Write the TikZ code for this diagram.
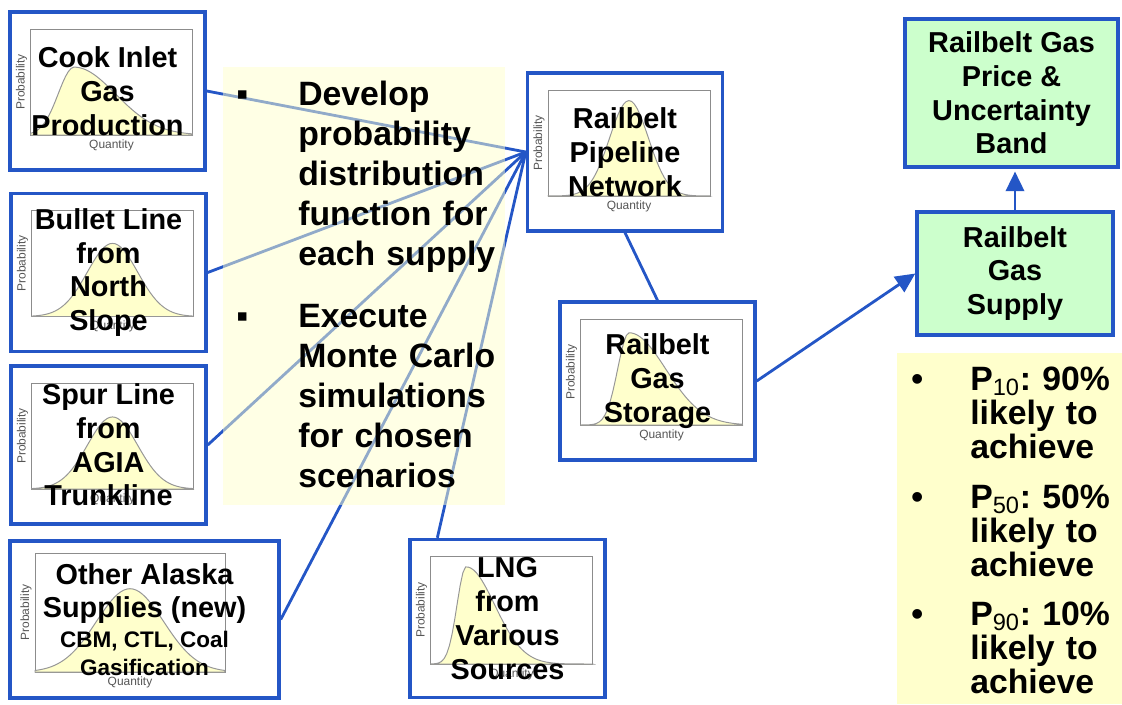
\documentclass[tikz,border=0pt]{standalone}
\usepackage{fontspec}
\setmainfont{Liberation Sans}
\usetikzlibrary{arrows.meta,calc}
\definecolor{cBlue}{HTML}{2456C6}
\definecolor{cPaper}{HTML}{FFFFCC}
\definecolor{cMint}{HTML}{CCFFCC}
\definecolor{cFrame}{HTML}{8C8C8C}
\definecolor{cLabel}{HTML}{555555}

% frame, skewed bell curve and axis labels of one small distribution plot
\newcommand{\distplot}[9]{%
  \draw[pframe] (#2,#3) rectangle ++(#4,#5);
  \filldraw[pcurve] (#2,#3+#5) -- plot[domain=0:1,samples=61]
    ({#2+\x*#4},{#3+#5-#5*#9*exp(-min(9,((\x-#6)/(((\x<#6)?#7:#8)))^2))})
    -- (#2+#4,#3+#5) -- cycle;
  \node[axlbl,rotate=90] (#1P) at (#2-9,#3+#5/2) {Probability};
  \node[axlbl] (#1Q) at (#2+#4/2,#3+#5+10) {Quantity};
}

\begin{document}
\begin{tikzpicture}[x=0.025cm,y=-0.025cm,
    srcbox/.style={draw=cBlue,line width=2.4pt,minimum width=4.875cm,minimum height=3.95cm,
      align=center,inner sep=0pt,font=\bfseries\fontsize{20.5}{24}\selectfont},
    sumbox/.style={srcbox,fill=cMint},
    notebox/.style={fill=cPaper,inner sep=0pt},
    pframe/.style={draw=cFrame,line width=0.7pt},
    pcurve/.style={draw=cFrame!90,fill=cPaper,line width=0.7pt},
    axlbl/.style={text=cLabel,font=\fontsize{8.5}{9}\selectfont,inner sep=0pt},
    link/.style={draw=cBlue,line width=2pt},
    flow/.style={link,-{Triangle[length=14pt,width=13pt]}},
    bul/.style={anchor=base west,inner sep=0pt,font=\bfseries\fontsize{24}{28}\selectfont},
    steptxt/.style={bul,text width=5.5cm,align=left,font=\bfseries\fontsize{24}{28.5}\selectfont},
    ptxt/.style={bul,text width=3.7cm,align=left,font=\bfseries\fontsize{24}{24.5}\selectfont}]
  \useasboundingbox (0,0) rectangle (1122,704);

  \distplot{cook}{30.5}{29}{162}{106}{0.27}{0.14}{0.36}{0.64}
  \distplot{bullet}{31.5}{210.5}{162}{106}{0.5}{0.22}{0.22}{0.69}
  \distplot{spur}{31.5}{383}{162}{106}{0.5}{0.22}{0.22}{0.68}
  \distplot{other}{35}{553}{190}{119}{0.5}{0.25}{0.25}{0.70}
  \distplot{lng}{430.5}{556}{162}{108}{0.22}{0.08}{0.25}{0.90}
  \distplot{pipe}{548}{90}{162}{106}{0.5}{0.17}{0.17}{0.90}
  \distplot{storage}{580.5}{319}{162}{106}{0.3}{0.10}{0.32}{0.87}

  \node[srcbox] (cook) at (107.5,91) {Cook Inlet\\Gas\\Production};
  \node[srcbox] (bullet) at (108.5,272.5) {Bullet Line\\from\\North\\Slope};
  \node[srcbox] (spur) at (108.5,445) {Spur Line\\from\\AGIA\\Trunkline};
  \node[srcbox,minimum width=6.725cm,minimum height=3.925cm] (other) at (144.5,619.5)
    {Other Alaska\\Supplies (new)\\[-3pt]{\fontsize{16}{18}\selectfont CBM, CTL, Coal}\\[-4pt]
     {\fontsize{16}{18}\selectfont Gasification}};
  \node[srcbox] (lng) at (507.5,618.5) {LNG\\from\\Various\\Sources};
  \node[srcbox] (pipe) at (625,152) {Railbelt\\Pipeline\\Network};
  \node[srcbox] (storage) at (657.5,381) {Railbelt\\Gas\\Storage};
  \node[sumbox,minimum width=5.325cm,minimum height=3.7cm] (price) at (1011.5,93)
    {Railbelt Gas\\Price \&\\Uncertainty\\Band};
  \node[sumbox,minimum width=4.9cm,minimum height=3.075cm] (supply) at (1015,273.5)
    {Railbelt\\Gas\\Supply};

  \foreach \src in {cook,bullet,spur,other}
    \draw[link] (\src.east) -- (pipe.west);
  \draw[link] (lng.131) -- (pipe.west);
  \draw[link] (pipe.south) -- (storage.north);
  \draw[flow] (storage.east) -- (supply.west);
  \draw[flow,shorten >=2pt] (supply.north) -- (supply.north |- price.south);

  \node[notebox,minimum width=7.05cm,minimum height=10.95cm,fill opacity=0.5,text opacity=1]
    (steps) at (364,286) {};
  \node[bul] (b1) at (236,105) {▪};
  \node[steptxt] (s1) at (298,105) {Develop\\probability\\distribution\\function for\\each supply};
  \node[bul] (b2) at (236,327) {▪};
  \node[steptxt] (s2) at (298,327) {Execute\\Monte Carlo\\simulations\\for chosen\\scenarios};

  \node[notebox,minimum width=5.625cm,minimum height=8.775cm] (pnote) at (1009.5,528.5) {};
  \foreach \p/\q/\yy [count=\k] in {10/90/390,50/50/508,90/10/625} {
    \node[bul] (d\k) at (911,\yy) {•};
    \node[ptxt] (p\k) at (970,\yy) {P\textsubscript{\mdseries\p}:~\q\%\\likely to\\achieve};
  }
\end{tikzpicture}
\end{document}
